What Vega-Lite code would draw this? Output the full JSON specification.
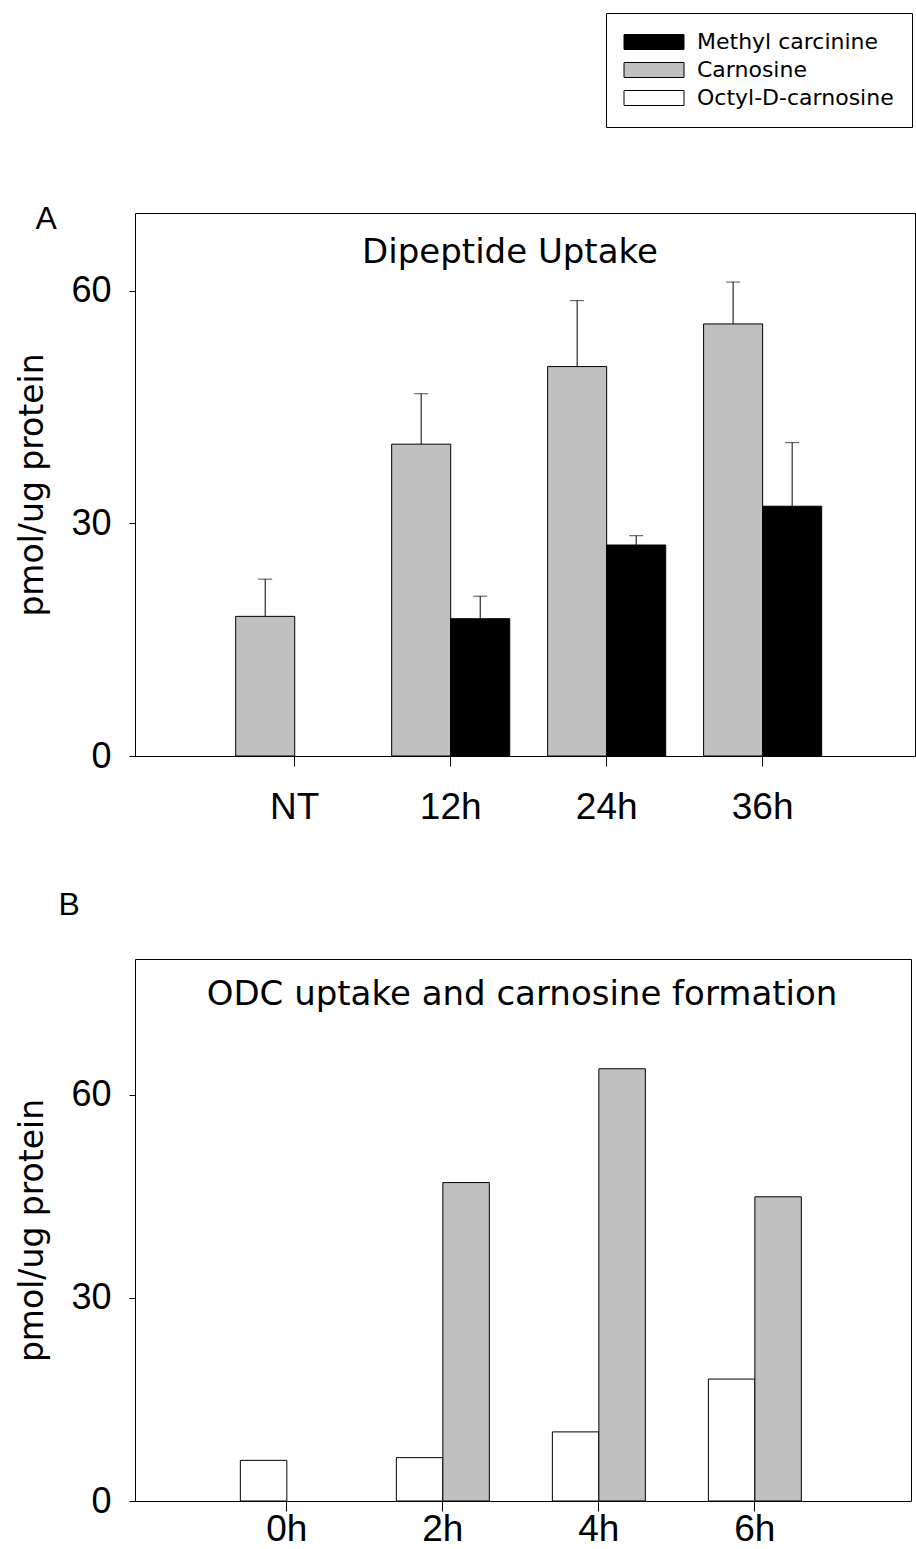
{
  "$schema": "https://vega.github.io/schema/vega-lite/v6.json",
  "background": "white",
  "padding": {"left": 16, "top": 12, "right": 0, "bottom": 0},
  "autosize": {"type": "pad"},
  "config": {
    "view": {"stroke": "black", "strokeWidth": 1},
    "axis": {"domain": false, "grid": false, "tickColor": "black", "tickWidth": 1, "labelColor": "black", "titleColor": "black", "labelFont": "Liberation Sans", "titleFont": "DejaVu Sans", "titleFontWeight": "normal"},
    "title": {"color": "black", "fontWeight": "normal"},
    "legend": {"strokeColor": "black", "strokeWidth": 1, "cornerRadius": 0, "padding": 18, "labelFont": "DejaVu Sans", "labelFontSize": 22, "labelColor": "black", "labelOffset": 51, "rowPadding": 6, "symbolType": "M-2.2,-1.5H9.8V1.5H-2.2Z", "symbolSize": 100, "symbolStrokeColor": "black", "symbolStrokeWidth": 1, "symbolOpacity": 1, "labelLimit": 400}
  },
  "datasets": {
    "panelA": [
      {"time": "NT", "series": "Carnosine", "value": 18.0, "upper": 22.8},
      {"time": "12h", "series": "Carnosine", "value": 40.2, "upper": 46.7},
      {"time": "12h", "series": "Methyl carcinine", "value": 17.7, "upper": 20.6},
      {"time": "24h", "series": "Carnosine", "value": 50.2, "upper": 58.7},
      {"time": "24h", "series": "Methyl carcinine", "value": 27.2, "upper": 28.4},
      {"time": "36h", "series": "Carnosine", "value": 55.7, "upper": 61.1},
      {"time": "36h", "series": "Methyl carcinine", "value": 32.2, "upper": 40.4}
    ],
    "panelB": [
      {"time": "0h", "series": "Octyl-D-carnosine", "value": 6.0},
      {"time": "2h", "series": "Octyl-D-carnosine", "value": 6.4},
      {"time": "2h", "series": "Carnosine", "value": 47.0},
      {"time": "4h", "series": "Octyl-D-carnosine", "value": 10.2},
      {"time": "4h", "series": "Carnosine", "value": 63.8},
      {"time": "6h", "series": "Octyl-D-carnosine", "value": 18.0},
      {"time": "6h", "series": "Carnosine", "value": 44.9}
    ]
  },
  "spacing": 62,
  "resolve": {"scale": {"xOffset": "independent"}},
  "vconcat": [
    {
      "title": {"text": "A", "anchor": "start", "frame": "bounds", "font": "Liberation Sans", "fontSize": 32, "offset": -23, "dx": 19},
      "vconcat": [
        {
          "width": 780,
          "height": 543,
          "title": {"text": "Dipeptide Uptake", "anchor": "middle", "font": "DejaVu Sans", "fontSize": 34, "offset": -57, "dx": -15},
          "data": {"name": "panelA"},
          "encoding": {
            "x": {"field": "time", "type": "nominal", "sort": ["NT", "12h", "24h", "36h"], "scale": {"paddingInner": 0.243, "paddingOuter": 0.622, "align": 0.519}, "axis": {"title": null, "labelAngle": 0, "labelFontSize": 37, "tickSize": 10, "labelPadding": 23}},
            "xOffset": {"field": "series", "type": "nominal", "scale": {"domain": ["Carnosine", "Methyl carcinine"]}}
          },
          "layer": [
            {
              "mark": {"type": "bar", "stroke": "black", "strokeWidth": 1},
              "encoding": {
                "y": {"field": "value", "type": "quantitative", "scale": {"domain": [0, 70]}, "axis": {"title": "pmol/ug protein", "titleFontSize": 33, "titlePadding": 21, "values": [0, 30, 60], "labelFontSize": 36, "tickSize": 6, "labelPadding": 18}},
                "color": {"field": "series", "type": "nominal", "scale": {"domain": ["Methyl carcinine", "Carnosine", "Octyl-D-carnosine"], "range": ["#000000", "#c0c0c0", "#ffffff"]}, "legend": {"title": null, "orient": "none", "legendX": 471, "legendY": -200}}
              }
            },
            {
              "mark": {"type": "rule", "color": "black", "strokeWidth": 1},
              "encoding": {"y": {"field": "value", "type": "quantitative"}, "y2": {"field": "upper"}}
            },
            {
              "mark": {"type": "tick", "color": "black", "size": 14, "thickness": 1, "orient": "horizontal"},
              "encoding": {"y": {"field": "upper", "type": "quantitative"}}
            }
          ]
        }
      ]
    },
    {
      "title": {"text": "B", "anchor": "start", "frame": "bounds", "font": "Liberation Sans", "fontSize": 32, "offset": 37, "dx": 42},
      "vconcat": [
        {
          "width": 776,
          "height": 542,
          "title": {"text": "ODC uptake and carnosine formation", "anchor": "middle", "font": "DejaVu Sans", "fontSize": 34, "offset": -53, "dx": -1},
          "data": {"name": "panelB"},
          "mark": {"type": "bar", "stroke": "black", "strokeWidth": 1},
          "encoding": {
            "x": {"field": "time", "type": "nominal", "sort": ["0h", "2h", "4h", "6h"], "scale": {"paddingInner": 0.404, "paddingOuter": 0.689, "align": 0.49}, "axis": {"title": null, "labelAngle": 0, "labelFontSize": 37, "tickSize": 10, "labelPadding": 0}},
            "xOffset": {"field": "series", "type": "nominal", "scale": {"domain": ["Octyl-D-carnosine", "Carnosine"]}},
            "y": {"field": "value", "type": "quantitative", "scale": {"domain": [0, 80]}, "axis": {"title": "pmol/ug protein", "titleFontSize": 33, "titlePadding": 21, "values": [0, 30, 60], "labelFontSize": 36, "tickSize": 6, "labelPadding": 18}},
            "color": {"field": "series", "type": "nominal", "scale": {"domain": ["Methyl carcinine", "Carnosine", "Octyl-D-carnosine"], "range": ["#000000", "#c0c0c0", "#ffffff"]}, "legend": {"title": null, "orient": "none", "legendX": 471, "legendY": -200}}
          }
        }
      ]
    }
  ]
}
